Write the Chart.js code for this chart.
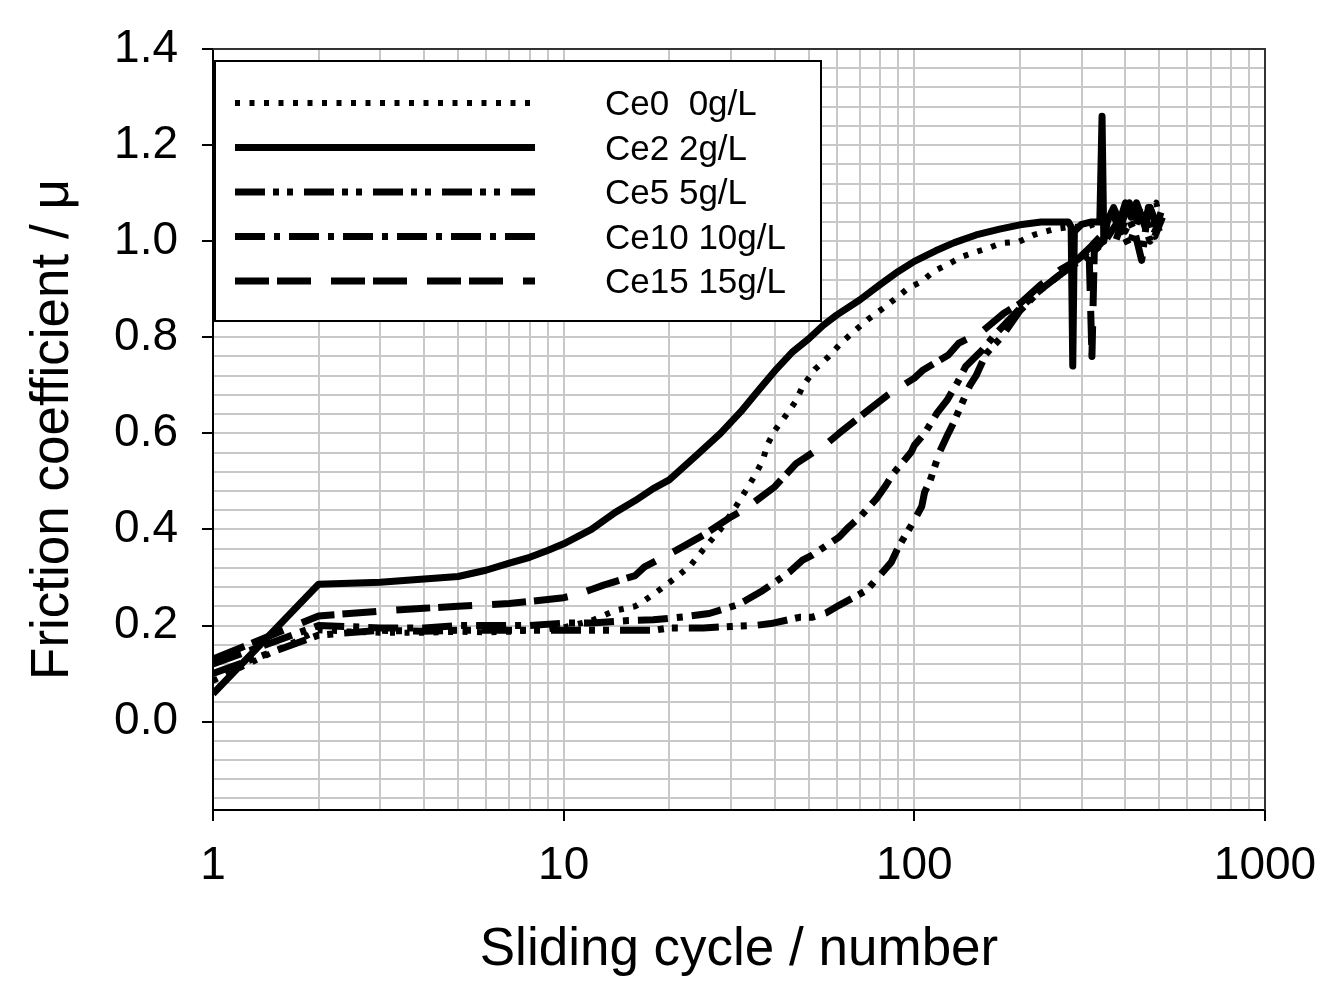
<!DOCTYPE html>
<html>
<head>
<meta charset="utf-8">
<script src="https://cdn.jsdelivr.net/npm/chart.js@4.4.1/dist/chart.umd.min.js"></script>
<style>
  body { margin: 0; background: #fff; }
</style>
</head>
<body>
<canvas id="friction-chart" width="1324" height="982"></canvas>
<script>
// legend labels
const seriesNames = ['Ce0  0g/L', 'Ce2 2g/L', 'Ce5 5g/L', 'Ce10 10g/L', 'Ce15 15g/L']

// Ce0 0g/L (dotted)
const ce0Cycles = [1, 2, 3, 4, 5, 6, 7, 8, 9, 10, 12, 14, 16, 17, 19, 21, 23, 25, 28, 31, 33, 35, 37, 38, 40, 43, 46, 48, 52, 57, 62, 68, 74, 81, 90, 96, 105, 114, 125, 137, 149, 163, 177, 199, 219, 250, 280, 310, 340, 370, 400, 430, 460, 490, 505]
const ce0Mu     = [0.085, 0.19, 0.185, 0.185, 0.187, 0.186, 0.187, 0.19, 0.192, 0.196, 0.21, 0.231, 0.24, 0.252, 0.277, 0.301, 0.325, 0.358, 0.40, 0.448, 0.48, 0.511, 0.544, 0.575, 0.606, 0.637, 0.668, 0.697, 0.733, 0.76, 0.789, 0.815, 0.838, 0.859, 0.885, 0.902, 0.916, 0.938, 0.952, 0.968, 0.977, 0.986, 0.996, 0.999, 1.013, 1.025, 1.03, 1.03, 1.04, 1.05, 1.02, 1.07, 1.05, 1.08, 1.03]

// Ce2 2g/L (solid)
const ce2Cycles = [1, 2, 3, 4, 5, 6, 7, 8, 9, 10, 12, 14, 16, 18, 20, 24, 28, 32, 36, 40, 45, 50, 55, 60, 70, 80, 90, 100, 115, 130, 150, 175, 200, 230, 260, 275, 280, 283, 286, 300, 320, 338, 343, 347, 355, 370, 385, 400, 415, 430, 450, 470, 490, 505]
const ce2Mu     = [0.058, 0.286, 0.29, 0.297, 0.302, 0.315, 0.33, 0.342, 0.356, 0.37, 0.4, 0.435, 0.46, 0.485, 0.503, 0.555, 0.6, 0.645, 0.69, 0.73, 0.77, 0.797, 0.825, 0.846, 0.878, 0.91, 0.937, 0.958, 0.98, 0.997, 1.013, 1.025, 1.034, 1.04, 1.04, 1.04, 1.03, 0.74, 1.02, 1.035, 1.04, 1.04, 1.26, 1.0, 1.04, 1.07, 1.04, 1.08, 1.05, 1.08, 1.04, 1.07, 1.03, 1.06]

// Ce5 5g/L (dash dot dot)
const ce5Cycles = [1, 2, 3, 4, 5, 6, 7, 8, 10, 12, 15, 18, 20, 25, 30, 35, 39, 47, 51, 56, 61, 73, 79, 86, 90, 100, 105, 107, 111, 118, 125, 129, 138, 144, 150, 160, 177, 200, 230, 260, 290, 320, 350, 380, 410, 440, 470, 500]
const ce5Mu     = [0.1, 0.18, 0.19, 0.188, 0.19, 0.19, 0.19, 0.19, 0.19, 0.19, 0.19, 0.19, 0.195, 0.195, 0.198, 0.2, 0.204, 0.217, 0.217, 0.226, 0.242, 0.273, 0.301, 0.332, 0.363, 0.419, 0.448, 0.478, 0.502, 0.561, 0.6, 0.62, 0.669, 0.7, 0.72, 0.765, 0.8, 0.855, 0.9, 0.93, 0.955, 0.975, 1.0, 1.04, 0.99, 1.06, 1.0, 1.04]

// Ce10 10g/L (dash dot)
const ce10Cycles = [1, 2, 3, 4, 5, 6, 8, 10, 12, 15, 18, 20, 22, 26, 31, 33, 37, 44, 48, 51, 61, 65, 70, 78, 83, 87, 98, 100, 107, 116, 124, 133, 140, 156, 171, 200, 230, 260, 290, 320, 350, 375, 400, 425, 445, 465, 485, 510]
const ce10Mu     = [0.12, 0.2, 0.195, 0.195, 0.2, 0.2, 0.2, 0.205, 0.205, 0.21, 0.212, 0.215, 0.218, 0.225, 0.242, 0.252, 0.273, 0.311, 0.336, 0.346, 0.384, 0.405, 0.426, 0.464, 0.492, 0.516, 0.561, 0.575, 0.6, 0.642, 0.669, 0.707, 0.739, 0.773, 0.808, 0.86, 0.9, 0.93, 0.96, 0.99, 1.02, 1.0, 1.06, 1.02, 0.96, 1.07, 1.01, 1.05]

// Ce15 15g/L (long dash)
const ce15Cycles = [1, 2, 3, 4, 5, 6, 7, 8, 9, 10, 11, 12, 13, 16, 17, 21, 25, 30, 33, 40, 46, 57, 61, 72, 84, 100, 106, 125, 134, 156, 180, 200, 230, 260, 290, 315, 321, 326, 345, 365, 390, 410, 440, 470, 500]
const ce15Mu     = [0.13, 0.22, 0.23, 0.236, 0.24, 0.243, 0.246, 0.25, 0.254, 0.258, 0.265, 0.275, 0.284, 0.304, 0.322, 0.357, 0.388, 0.426, 0.443, 0.489, 0.537, 0.582, 0.6, 0.642, 0.68, 0.715, 0.732, 0.763, 0.788, 0.812, 0.85, 0.87, 0.91, 0.94, 0.96, 0.98, 0.76, 0.98, 1.0, 1.06, 1.02, 1.08, 1.03, 1.07, 1.02]

// axis labels
const xTickLabels = ['1', '10', '100', '1000']
const yTickLabels = ['0.0', '0.2', '0.4', '0.6', '0.8', '1.0', '1.2', '1.4']

// grid lines: 1..9 per decade, 0.04 steps on y
const xGridValues = []
for (const decade of [1, 10, 100]) {
    for (let k = 1; k < 10; k++) xGridValues.push(k * decade)
}
xGridValues.push(1000)
const yGridValues = []
for (let i = -4; i <= 35; i++) yGridValues.push(Math.round(i * 4) / 100)

const FONT = '"Liberation Sans", Arial, sans-serif'
Chart.defaults.font.family = FONT
Chart.defaults.color = '#000'

const toPoints = (cycles, mu) => cycles.map((c, i) => ({ x: c, y: mu[i] }))

const styles = [
    { dash: [5, 9.5], width: 6 },
    { dash: [], width: 7 },
    { dash: [30, 8, 6, 8, 6, 11], width: 7 },
    { dash: [30, 9, 6, 9], width: 7 },
    { dash: [34, 8, 34, 20], width: 7 },
]
const series = [
    [ce0Cycles, ce0Mu],
    [ce2Cycles, ce2Mu],
    [ce5Cycles, ce5Mu],
    [ce10Cycles, ce10Mu],
    [ce15Cycles, ce15Mu],
]

const datasets = series.map(([cycles, mu], i) => ({
    label: seriesNames[i],
    data: toPoints(cycles, mu),
    borderColor: '#000',
    borderWidth: styles[i].width,
    borderDash: styles[i].dash,
    borderCapStyle: 'butt',
    borderJoinStyle: 'round',
    pointRadius: 0,
    tension: 0,
    fill: false,
}))

const isXLabel = v => xTickLabels.includes(String(v))
const yLabelFor = v => yTickLabels.find(l => Math.abs(Number(l) - v) < 1e-6)

// top and right frame of the plot area
const frame = {
    id: 'frame',
    afterDatasetsDraw(chart) {
        const { ctx, chartArea: a } = chart
        ctx.save()
        ctx.strokeStyle = '#333'
        ctx.lineWidth = 2
        ctx.beginPath()
        ctx.moveTo(a.left, a.top)
        ctx.lineTo(a.right, a.top)
        ctx.lineTo(a.right, a.bottom)
        ctx.stroke()
        ctx.restore()
    }
}

// boxed legend with long line samples
const legendBox = {
    id: 'legendBox',
    afterDatasetsDraw(chart) {
        const ctx = chart.ctx
        ctx.save()
        ctx.fillStyle = '#fff'
        ctx.fillRect(215, 61, 606, 260)
        ctx.lineWidth = 2
        ctx.strokeStyle = '#000'
        ctx.strokeRect(215, 61, 606, 260)
        chart.data.datasets.forEach((ds, i) => {
            const y = 103 + i * 44.5
            ctx.beginPath()
            ctx.setLineDash(ds.borderDash)
            ctx.lineWidth = ds.borderWidth
            ctx.lineCap = 'butt'
            ctx.moveTo(235, y)
            ctx.lineTo(535, y)
            ctx.stroke()
            ctx.setLineDash([])
            ctx.font = '35px ' + FONT
            ctx.fillStyle = '#000'
            ctx.textBaseline = 'alphabetic'
            ctx.fillText(ds.label, 605, y + 12)
        })
        ctx.restore()
    }
}

new Chart(document.getElementById('friction-chart'), {
    type: 'line',
    data: { datasets },
    plugins: [frame, legendBox],
    options: {
        responsive: false,
        animation: false,
        layout: { padding: { top: 49, right: 59, left: 0, bottom: 0 } },
        plugins: { legend: { display: false }, tooltip: { enabled: false } },
        scales: {
            x: {
                type: 'logarithmic',
                min: 1,
                max: 1000,
                afterBuildTicks: scale => { scale.ticks = xGridValues.map(v => ({ value: v })) },
                afterFit: scale => {
                    scale.height = 172
                    scale.paddingLeft = 0
                    scale.paddingRight = 0
                },
                grid: {
                    color: '#c8c8c8',
                    lineWidth: 2,
                    tickLength: 11,
                    tickWidth: 2,
                    tickColor: ctx => (ctx.tick && isXLabel(ctx.tick.value)) ? '#000' : 'rgba(0,0,0,0)',
                },
                border: { color: '#000', width: 2 },
                ticks: {
                    autoSkip: false,
                    maxRotation: 0,
                    padding: 18,
                    font: { size: 46 },
                    callback: v => isXLabel(v) ? String(v) : '',
                },
                title: {
                    display: true,
                    text: 'Sliding cycle / number',
                    font: { size: 53 },
                    padding: { top: 0, bottom: 0 },
                },
            },
            y: {
                type: 'linear',
                min: -0.184,
                max: 1.4,
                afterBuildTicks: scale => { scale.ticks = yGridValues.map(v => ({ value: v })) },
                afterFit: scale => {
                    scale.width = 213
                    scale.paddingTop = 0
                    scale.paddingBottom = 0
                },
                grid: {
                    color: '#c8c8c8',
                    lineWidth: 2,
                    tickLength: 11,
                    tickWidth: 2,
                    tickColor: ctx => (ctx.tick && yLabelFor(ctx.tick.value)) ? '#000' : 'rgba(0,0,0,0)',
                },
                border: { color: '#000', width: 2 },
                ticks: {
                    autoSkip: false,
                    padding: 24,
                    font: { size: 46 },
                    callback: v => yLabelFor(v) || '',
                },
                title: {
                    display: true,
                    text: 'Friction coefficient / μ',
                    font: { size: 53 },
                    padding: { top: 22, bottom: 0 },
                },
            },
        },
    },
})
</script>
</body>
</html>
